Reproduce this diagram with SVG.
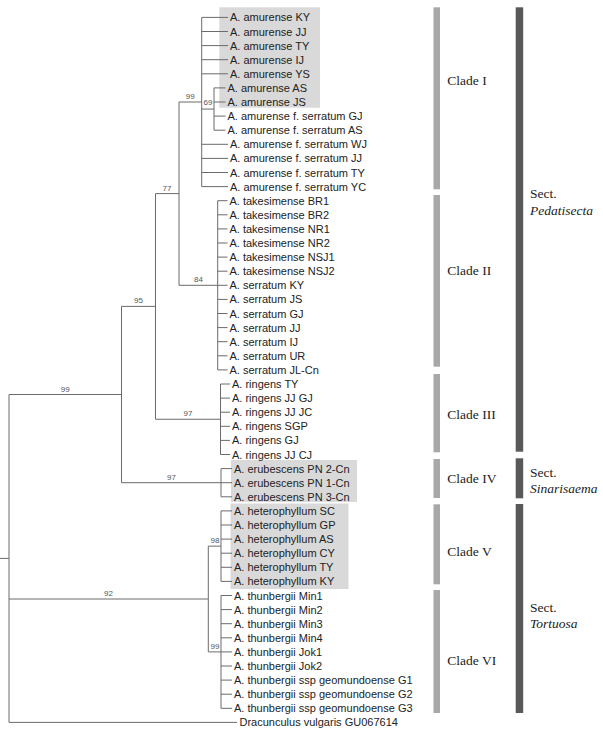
<svg xmlns="http://www.w3.org/2000/svg" width="603" height="736" viewBox="0 0 603 736">
<style>
.e{stroke:#6b6b6b;stroke-width:1;fill:none}
.lf{font-family:"Liberation Sans",Arial,sans-serif;font-size:11px;fill:#222}
.bs{font-family:"Liberation Sans",Arial,sans-serif;font-size:8px;fill:#555;text-anchor:middle}
.cl{font-family:"Liberation Serif","Times New Roman",serif;font-size:13.5px;fill:#222}
.it{font-style:italic}
.hl{fill:#d9d9d9}
.lb{fill:#a8a8a8}
.db{fill:#595959}
</style>
<rect width="603" height="736" fill="#fff"/>
<g id="highlights">
<rect class="hl" x="219.3" y="7.3" width="100.7" height="100.4"/>
<rect class="hl" x="231" y="460" width="126" height="42"/>
<rect class="hl" x="230.5" y="503.5" width="118" height="85.5"/>
</g>
<g id="connectors">
<path class="e" d="M0 558.4H9M9 394.5V722.4M9 722.4H237M9 394.5H121.5M9 599H208.3"/>
<path class="e" d="M121.5 306.4V482.7M121.5 306.4H155.5M121.5 482.7H221"/>
<path class="e" d="M155.5 193.6V419.25M155.5 193.6H179M155.5 419.25H220.5"/>
<path class="e" d="M179 102V285.3M179 102H201.7M179 285.3H217.7"/>
<path class="e" d="M201.7 17.4V186.6M201.7 17.4H228M201.7 31.5H228M201.7 45.6H228M201.7 59.7H228M201.7 73.8H228M201.7 109.05H214M201.7 144.3H228M201.7 158.4H228M201.7 172.5H228M201.7 186.6H228"/>
<path class="e" d="M214 87.9V130.2M214 87.9H225.5M214 102H225.5M214 116.1H225.5M214 130.2H225.5"/>
<path class="e" d="M217.7 200.7V369.9M217.7 200.7H227.5M217.7 214.8H227.5M217.7 228.9H227.5M217.7 243H227.5M217.7 257.1H227.5M217.7 271.2H227.5M217.7 285.3H227.5M217.7 299.4H227.5M217.7 313.5H227.5M217.7 327.6H227.5M217.7 341.7H227.5M217.7 355.8H227.5M217.7 369.9H227.5"/>
<path class="e" d="M220.5 384V454.5M220.5 384H230M220.5 398.1H230M220.5 412.2H230M220.5 426.3H230M220.5 440.4H230M220.5 454.5H230"/>
<path class="e" d="M221 468.6V496.8M221 468.6H232M221 482.7H232M221 496.8H232"/>
<path class="e" d="M208.3 546.15V651.9M208.3 546.15H221M208.3 651.9H221"/>
<path class="e" d="M221 510.9V581.4M221 510.9H232M221 525H232M221 539.1H232M221 553.2H232M221 567.3H232M221 581.4H232"/>
<path class="e" d="M221 595.5V708.3M221 595.5H232M221 609.6H232M221 623.7H232M221 637.8H232M221 651.9H232M221 666H232M221 680.1H232M221 694.2H232M221 708.3H232"/>
</g>
<g id="support">
<text class="bs" x="65.2" y="391.5">99</text>
<text class="bs" x="138.5" y="303.4">95</text>
<text class="bs" x="167" y="190.6">77</text>
<text class="bs" x="190.3" y="98.7">99</text>
<text class="bs" x="208" y="105">69</text>
<text class="bs" x="198.5" y="282">84</text>
<text class="bs" x="188" y="416">97</text>
<text class="bs" x="171.5" y="479.5">97</text>
<text class="bs" x="108.5" y="596">92</text>
<text class="bs" x="215" y="542.5">98</text>
<text class="bs" x="215" y="648.5">99</text>
</g>
<g id="leaves">
<g id="leaf-amurense-KY"><text class="lf" x="230" y="21.4">A. amurense KY</text></g>
<g id="leaf-amurense-JJ"><text class="lf" x="230" y="35.5">A. amurense JJ</text></g>
<g id="leaf-amurense-TY"><text class="lf" x="230" y="49.6">A. amurense TY</text></g>
<g id="leaf-amurense-IJ"><text class="lf" x="230" y="63.7">A. amurense IJ</text></g>
<g id="leaf-amurense-YS"><text class="lf" x="230" y="77.8">A. amurense YS</text></g>
<g id="leaf-amurense-AS"><text class="lf" x="227.5" y="91.9">A. amurense AS</text></g>
<g id="leaf-amurense-JS"><text class="lf" x="227.5" y="106">A. amurense JS</text></g>
<g id="leaf-amurense-fs-GJ"><text class="lf" x="227.5" y="120.1">A. amurense f. serratum GJ</text></g>
<g id="leaf-amurense-fs-AS"><text class="lf" x="227.5" y="134.2">A. amurense f. serratum AS</text></g>
<g id="leaf-amurense-fs-WJ"><text class="lf" x="230" y="148.3">A. amurense f. serratum WJ</text></g>
<g id="leaf-amurense-fs-JJ"><text class="lf" x="230" y="162.4">A. amurense f. serratum JJ</text></g>
<g id="leaf-amurense-fs-TY"><text class="lf" x="230" y="176.5">A. amurense f. serratum TY</text></g>
<g id="leaf-amurense-fs-YC"><text class="lf" x="230" y="190.6">A. amurense f. serratum YC</text></g>
<g id="leaf-takesimense-BR1"><text class="lf" x="229.5" y="204.7">A. takesimense BR1</text></g>
<g id="leaf-takesimense-BR2"><text class="lf" x="229.5" y="218.8">A. takesimense BR2</text></g>
<g id="leaf-takesimense-NR1"><text class="lf" x="229.5" y="232.9">A. takesimense NR1</text></g>
<g id="leaf-takesimense-NR2"><text class="lf" x="229.5" y="247">A. takesimense NR2</text></g>
<g id="leaf-takesimense-NSJ1"><text class="lf" x="229.5" y="261.1">A. takesimense NSJ1</text></g>
<g id="leaf-takesimense-NSJ2"><text class="lf" x="229.5" y="275.2">A. takesimense NSJ2</text></g>
<g id="leaf-serratum-KY"><text class="lf" x="229.5" y="289.3">A. serratum KY</text></g>
<g id="leaf-serratum-JS"><text class="lf" x="229.5" y="303.4">A. serratum JS</text></g>
<g id="leaf-serratum-GJ"><text class="lf" x="229.5" y="317.5">A. serratum GJ</text></g>
<g id="leaf-serratum-JJ"><text class="lf" x="229.5" y="331.6">A. serratum JJ</text></g>
<g id="leaf-serratum-IJ"><text class="lf" x="229.5" y="345.7">A. serratum IJ</text></g>
<g id="leaf-serratum-UR"><text class="lf" x="229.5" y="359.8">A. serratum UR</text></g>
<g id="leaf-serratum-JL-Cn"><text class="lf" x="229.5" y="373.9">A. serratum JL-Cn</text></g>
<g id="leaf-ringens-TY"><text class="lf" x="232" y="388">A. ringens TY</text></g>
<g id="leaf-ringens-JJGJ"><text class="lf" x="232" y="402.1">A. ringens JJ GJ</text></g>
<g id="leaf-ringens-JJJC"><text class="lf" x="232" y="416.2">A. ringens JJ JC</text></g>
<g id="leaf-ringens-SGP"><text class="lf" x="232" y="430.3">A. ringens SGP</text></g>
<g id="leaf-ringens-GJ"><text class="lf" x="232" y="444.4">A. ringens GJ</text></g>
<g id="leaf-ringens-JJCJ"><text class="lf" x="232" y="458.5">A. ringens JJ CJ</text></g>
<g id="leaf-erubescens-2"><text class="lf" x="234" y="472.6">A. erubescens PN 2-Cn</text></g>
<g id="leaf-erubescens-1"><text class="lf" x="234" y="486.7">A. erubescens PN 1-Cn</text></g>
<g id="leaf-erubescens-3"><text class="lf" x="234" y="500.8">A. erubescens PN 3-Cn</text></g>
<g id="leaf-hetero-SC"><text class="lf" x="234" y="514.9">A. heterophyllum SC</text></g>
<g id="leaf-hetero-GP"><text class="lf" x="234" y="529">A. heterophyllum GP</text></g>
<g id="leaf-hetero-AS"><text class="lf" x="234" y="543.1">A. heterophyllum AS</text></g>
<g id="leaf-hetero-CY"><text class="lf" x="234" y="557.2">A. heterophyllum CY</text></g>
<g id="leaf-hetero-TY"><text class="lf" x="234" y="571.3">A. heterophyllum TY</text></g>
<g id="leaf-hetero-KY"><text class="lf" x="234" y="585.4">A. heterophyllum KY</text></g>
<g id="leaf-thun-Min1"><text class="lf" x="234" y="599.5">A. thunbergii Min1</text></g>
<g id="leaf-thun-Min2"><text class="lf" x="234" y="613.6">A. thunbergii Min2</text></g>
<g id="leaf-thun-Min3"><text class="lf" x="234" y="627.7">A. thunbergii Min3</text></g>
<g id="leaf-thun-Min4"><text class="lf" x="234" y="641.8">A. thunbergii Min4</text></g>
<g id="leaf-thun-Jok1"><text class="lf" x="234" y="655.9">A. thunbergii Jok1</text></g>
<g id="leaf-thun-Jok2"><text class="lf" x="234" y="670">A. thunbergii Jok2</text></g>
<g id="leaf-thun-G1"><text class="lf" x="234" y="684.1">A. thunbergii ssp geomundoense G1</text></g>
<g id="leaf-thun-G2"><text class="lf" x="234" y="698.2">A. thunbergii ssp geomundoense G2</text></g>
<g id="leaf-thun-G3"><text class="lf" x="234" y="712.3">A. thunbergii ssp geomundoense G3</text></g>
<g id="leaf-dracunculus"><text class="lf" x="239.5" y="726.4">Dracunculus vulgaris GU067614</text></g>
</g>
<g id="clades">
<g id="clade-I"><rect class="lb" x="433.5" y="7.3" width="6.5" height="182"/><text class="cl" x="447.3" y="84.5">Clade I</text></g>
<g id="clade-II"><rect class="lb" x="433.5" y="195" width="6.5" height="171.7"/><text class="cl" x="447.3" y="274.5">Clade II</text></g>
<g id="clade-III"><rect class="lb" x="433.5" y="374" width="6.5" height="78.3"/><text class="cl" x="447.3" y="419">Clade III</text></g>
<g id="clade-IV"><rect class="lb" x="433.5" y="459" width="6.5" height="39"/><text class="cl" x="447.3" y="483">Clade IV</text></g>
<g id="clade-V"><rect class="lb" x="433.5" y="504.3" width="6.5" height="80"/><text class="cl" x="447.3" y="555.5">Clade V</text></g>
<g id="clade-VI"><rect class="lb" x="433.5" y="590" width="6.5" height="123"/><text class="cl" x="447.3" y="664.5">Clade VI</text></g>
</g>
<g id="sections">
<g id="sect-pedatisecta"><rect class="db" x="515.7" y="7.3" width="7.5" height="444.4"/><text class="cl" x="530" y="197.5">Sect.</text><text class="cl it" x="530" y="214.5">Pedatisecta</text></g>
<g id="sect-sinarisaema"><rect class="db" x="515.7" y="458.3" width="7.5" height="40"/><text class="cl" x="530" y="477">Sect.</text><text class="cl it" x="530" y="493">Sinarisaema</text></g>
<g id="sect-tortuosa"><rect class="db" x="515.7" y="504" width="7.5" height="209"/><text class="cl" x="530" y="612">Sect.</text><text class="cl it" x="530" y="628">Tortuosa</text></g>
</g>
</svg>
